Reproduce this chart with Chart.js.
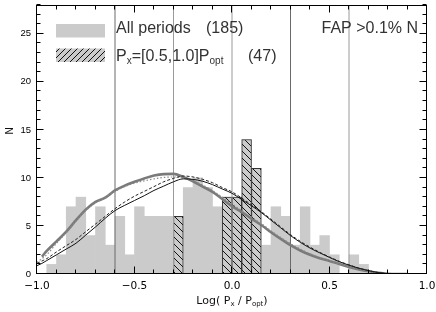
<!DOCTYPE html>
<html lang="en">
<head>
<meta charset="UTF-8" />
<title>Log(Px / Popt) histogram</title>
<script src="https://cdn.jsdelivr.net/npm/chart.js"></script>
<style>
  html, body { margin: 0; padding: 0; background: #fff; }
</style>
</head>
<body>
<canvas id="histChart" width="436" height="312"></canvas>

<script>
  // histogram bins: start -1.0, width 0.05 (40 bins up to 1.0)
  const binLo = -1.0;
  const binStep = 0.05;
  const allCounts = [0, 1, 2, 7, 8, 4, 7, 3, 6, 2, 7, 6, 6, 6, 6, 9, 10, 9, 7, 8,
                     8, 14, 11, 3, 7, 6, 3, 7, 3, 4, 2, 0, 2, 1, 0, 0, 0, 0, 0, 0];

  // Px = [0.5,1.0] Popt subset (hatched)
  const subBins = [-0.30, -0.05, 0.00, 0.05, 0.10];
  const subCounts = [6, 8, 8, 14, 11];

  // smooth curves
  const curveX = [-1.0, -0.975, -0.95, -0.9, -0.85, -0.8, -0.75, -0.7, -0.65, -0.6,
                  -0.55, -0.5, -0.45, -0.4, -0.35, -0.3, -0.25, -0.2, -0.15, -0.1,
                  -0.05, 0.0, 0.05, 0.1, 0.15, 0.2, 0.25, 0.3, 0.35, 0.4,
                  0.45, 0.5, 0.55, 0.6, 0.65, 0.7, 0.75, 0.8, 0.85, 0.9];
  const thickGrey = [null, 1.8, 2.4, 3.4, 4.4, 5.6, 6.7, 7.5, 7.95, 8.7,
                     9.2, 9.6, 9.95, 10.25, 10.4, 10.42, 10.1, 9.65, 9.1, 8.55,
                     7.8, 7.05, 6.45, 5.75, 5.1, 4.35, 3.65, 3.0, 2.45, 2.0,
                     1.65, 1.35, 1.05, 0.72, 0.48, 0.28, 0.12, 0.02, 0, 0];
  const greyDotted = [1.2, 1.6, 2.0, 3.2, 4.3, 5.5, 6.6, 7.4, 8.0, 8.6,
                      9.1, 9.45, 9.7, 9.9, 10.05, 10.1, 10.0, 9.7, 9.25, 8.7,
                      8.0, 7.3, 6.6, 5.9, 5.25, 4.5, 3.8, 3.15, 2.6, 2.1,
                      1.72, 1.4, 1.08, 0.75, 0.5, 0.3, 0.13, 0.02, 0, 0];
  const blackSolid = [0.87, 1.1, 1.4, 2.0, 2.6, 3.2, 4.05, 4.9, 5.8, 6.6,
                      7.15, 7.65, 8.15, 8.7, 9.15, 9.6, 9.9, 9.85, 9.65, 9.3,
                      8.85, 8.4, 7.75, 7.1, 6.4, 5.6, 4.8, 4.0, 3.3, 2.7,
                      2.2, 1.72, 1.28, 0.92, 0.6, 0.35, 0.15, 0.03, 0, 0];
  const blackDashed = [1.1, 1.35, 1.6, 2.3, 2.95, 3.6, 4.4, 5.2, 6.0, 6.8,
                       7.5, 8.1, 8.6, 9.1, 9.6, 9.95, 10.2, 10.1, 9.85, 9.5,
                       9.0, 8.55, 7.9, 7.2, 6.5, 5.7, 4.9, 4.1, 3.4, 2.8,
                       2.25, 1.78, 1.32, 0.95, 0.62, 0.36, 0.15, 0.03, 0, 0];

  // vertical reference lines
  const refLines = [-0.6, -0.3, 0.0, 0.3, 0.6];

  const xTicks = [-1.0, -0.5, 0.0, 0.5, 1.0];
  const yTicks = [0, 5, 10, 15, 20, 25];
  const yMax = 28;

  // ---- styling ----
  const refColors = ["#6a6a6a", "#9a9a9a", "#9a9a9a", "#6a6a6a", "#9a9a9a"];

  function hatch(size, back) {
    const c = document.createElement("canvas");
    c.width = c.height = size;
    const g = c.getContext("2d");
    g.fillStyle = "#cbcbcb";
    g.fillRect(0, 0, size, size);
    g.strokeStyle = "#111";
    g.lineWidth = 1;
    g.beginPath();
    if (back) {
      g.moveTo(-1, -1); g.lineTo(size + 1, size + 1);
      g.moveTo(-1, size - 1); g.lineTo(1, size + 1);
      g.moveTo(size - 1, -1); g.lineTo(size + 1, 1);
    } else {
      g.moveTo(-1, size + 1); g.lineTo(size + 1, -1);
      g.moveTo(-1, 1); g.lineTo(1, -1);
      g.moveTo(size - 1, size + 1); g.lineTo(size + 1, size - 1);
    }
    g.stroke();
    return g.createPattern(c, "repeat");
  }
  const ctx0 = document.getElementById("histChart").getContext("2d");
  const barHatch = hatch(7, true);
  const legendHatch = hatch(6, false);

  const fmt = v => (v < 0 ? "\u2212" : "") + Math.abs(v).toFixed(1);
  const mid = lo => Math.round((lo + binStep / 2) * 1000) / 1000;   // bin centre

  function curve(arr, opts) {
    return Object.assign({
      type: "line",
      data: curveX.map((x, i) => ({ x: x, y: arr[i] })),
      pointRadius: 0,
      fill: false,
      cubicInterpolationMode: "monotone"
    }, opts);
  }

  const datasets = [
    {
      type: "bar",
      data: allCounts.map((n, i) => ({ x: mid(binLo + binStep * i), y: n })),
      backgroundColor: "#cbcbcb",
      borderWidth: 0,
      barPercentage: 1,
      categoryPercentage: 1,
      grouped: false,
      order: 7
    },
    {
      type: "bar",
      data: subBins.map((b, i) => ({ x: mid(b), y: subCounts[i] })),
      backgroundColor: barHatch,
      borderColor: "#333",
      borderWidth: 1,
      barPercentage: 1,
      categoryPercentage: 1,
      grouped: false,
      order: 6
    }
  ];
  refLines.forEach((p, i) => {
    datasets.push({
      type: "line",
      data: [{ x: p, y: 0 }, { x: p, y: yMax }],
      borderColor: refColors[i],
      borderWidth: 1,
      pointRadius: 0,
      order: 5
    });
  });
  datasets.push(curve(thickGrey, { borderColor: "#7a7a7a", borderWidth: 2.6, order: 3 }));
  datasets.push(curve(greyDotted, { borderColor: "#8a8a8a", borderWidth: 1.2, borderDash: [1.5, 2], order: 2 }));
  datasets.push(curve(blackDashed, { borderColor: "#222", borderWidth: 1, borderDash: [3, 2], order: 1 }));
  datasets.push(curve(blackSolid, { borderColor: "#111", borderWidth: 1, order: 1 }));

  // frame, inward ticks, axis titles and legend text
  const decor = {
    id: "decor",
    afterDraw(chart) {
      const ctx = chart.ctx;
      const a = chart.chartArea;
      const xs = chart.scales.x, ys = chart.scales.y;
      const L = Math.round(a.left) - 0.5, R = Math.round(a.right) - 0.5;
      const T = Math.round(a.top) + 0.5, B = Math.round(a.bottom) - 0.5;
      ctx.save();
      ctx.strokeStyle = "#000";
      ctx.lineWidth = 1;
      ctx.strokeRect(L, T, R - L, B - T);
      ctx.beginPath();
      for (let k = -10; k <= 10; k++) {
        const px = Math.round(xs.getPixelForValue(k / 10)) - 0.5;
        const len = k % 5 === 0 ? 7 : 4;
        ctx.moveTo(px, B); ctx.lineTo(px, B - len);
        ctx.moveTo(px, T); ctx.lineTo(px, T + len);
      }
      for (let k = 0; k <= yMax; k++) {
        const py = Math.round(ys.getPixelForValue(k)) - 0.5;
        const len = k % 5 === 0 ? 7 : 4;
        ctx.moveTo(L, py); ctx.lineTo(L + len, py);
        ctx.moveTo(R, py); ctx.lineTo(R - len, py);
      }
      ctx.stroke();

      // y title
      ctx.fillStyle = "#111";
      ctx.font = '10px "Liberation Sans"';
      ctx.save();
      ctx.translate(10, 131);
      ctx.rotate(-Math.PI / 2);
      ctx.textAlign = "center";
      ctx.textBaseline = "middle";
      ctx.fillText("N", 0, 0);
      ctx.restore();

      // x title with subscripts
      const big = '11px "DejaVu Sans"', small = '7px "DejaVu Sans"';
      const parts = [["Log( P", big, 0], ["x", small, 2], [" / P", big, 0], ["opt", small, 2], [")", big, 0]];
      let w = 0;
      parts.forEach(p => { ctx.font = p[1]; w += ctx.measureText(p[0]).width; });
      let x = (a.left + a.right) / 2 - w / 2;
      ctx.textAlign = "left";
      ctx.textBaseline = "alphabetic";
      parts.forEach(p => { ctx.font = p[1]; ctx.fillText(p[0], x, 304 + p[2]); x += ctx.measureText(p[0]).width; });

      // legend
      ctx.fillStyle = "#cbcbcb";
      ctx.fillRect(56, 24, 49, 13.5);
      ctx.fillStyle = legendHatch;
      ctx.fillRect(56, 48.5, 49, 13.5);

      ctx.fillStyle = "#333";
      const lf = '16px "Liberation Sans"', lsub = '10px "Liberation Sans"';
      ctx.font = lf;
      ctx.fillText("All periods", 116, 33);
      ctx.fillText("(185)", 206, 33);
      const leg2 = [["P", lf, 0], ["x", lsub, 3], ["=[0.5,1.0]P", lf, 0], ["opt", lsub, 3]];
      x = 116;
      leg2.forEach(p => { ctx.font = p[1]; ctx.fillText(p[0], x, 61 + p[2]); x += ctx.measureText(p[0]).width; });
      ctx.font = lf;
      ctx.fillText("(47)", 248, 61);
      ctx.textAlign = "right";
      ctx.fillText("FAP >0.1% N", 418, 33);
      ctx.restore();
    }
  };

  new Chart(ctx0, {
    type: "bar",
    data: { datasets: datasets },
    options: {
      responsive: false,
      animation: false,
      layout: { padding: { top: 5, right: 9, left: 0, bottom: 0 } },
      plugins: { legend: { display: false }, tooltip: { enabled: false } },
      scales: {
        x: {
          type: "linear",
          min: -1,
          max: 1,
          offset: false,
          grid: { display: false, drawTicks: false },
          border: { display: false },
          afterBuildTicks: s => { s.ticks = xTicks.map(v => ({ value: v })); },
          ticks: {
            padding: 6,
            color: "#000",
            maxRotation: 0,
            autoSkip: false,
            font: { family: "DejaVu Sans", size: 10.5 },
            callback: v => fmt(v)
          },
          afterFit: s => { s.height = 38; s.paddingLeft = 0; s.paddingRight = 0; }
        },
        y: {
          min: 0,
          max: yMax,
          grid: { display: false, drawTicks: false },
          border: { display: false },
          afterBuildTicks: s => { s.ticks = yTicks.map(v => ({ value: v })); },
          ticks: {
            padding: 6,
            color: "#000",
            font: { family: "Liberation Sans", size: 9.5 },
            callback: v => String(v)
          },
          afterFit: s => { s.width = 37; s.paddingTop = 0; s.paddingBottom = 0; }
        }
      }
    },
    plugins: [decor]
  });
</script>
</body>
</html>
